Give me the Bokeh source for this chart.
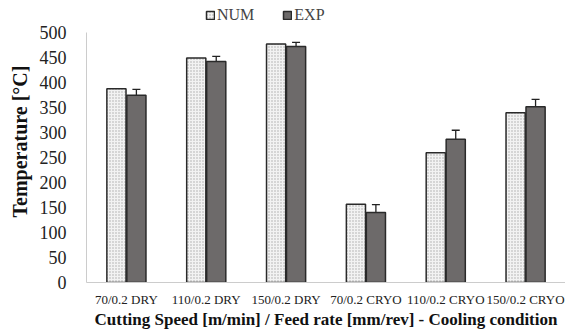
from bokeh.plotting import figure
from bokeh.models import ColumnDataSource, FactorRange, Whisker, Legend, LegendItem, Range1d, FixedTicker
from bokeh.transform import dodge
from bokeh.embed import file_html
from bokeh.resources import INLINE

categories = ["70/0.2 DRY", "110/0.2 DRY", "150/0.2 DRY", "70/0.2 CRYO", "110/0.2 CRYO", "150/0.2 CRYO"]
num_values = [388, 450, 478, 157, 260, 340]
exp_values = [375, 443, 473, 140, 287, 352]
exp_errors = [12, 10, 8, 16, 18, 15]
y_ticks = [0, 50, 100, 150, 200, 250, 300, 350, 400, 450, 500]

src = ColumnDataSource(dict(
    cat=categories, num=num_values, exp=exp_values,
    lo=[v - e for v, e in zip(exp_values, exp_errors)],
    hi=[v + e for v, e in zip(exp_values, exp_errors)],
))

FONT = "Liberation Serif"

p = figure(x_range=FactorRange(*categories, range_padding=0), y_range=Range1d(0, 565),
           width=565, height=331, output_backend="svg", toolbar_location=None,
           min_border_left=86, min_border_right=0, min_border_top=0, min_border_bottom=47)

r_num = p.vbar(x=dodge("cat", -0.125, range=p.x_range), top="num", width=0.24, source=src,
               fill_color="#f2f2f2", hatch_pattern="dot", hatch_color="#aaaaaa", hatch_scale=3,
               line_color="#2a2a2a", line_width=1.5)
r_exp = p.vbar(x=dodge("cat", 0.125, range=p.x_range), top="exp", width=0.24, source=src,
               fill_color="#6d6a6a", line_color="#2a2a2a", line_width=1.5)

w = Whisker(base=dodge("cat", 0.125, range=p.x_range), upper="hi", lower="lo", source=src,
            line_color="#222222", line_width=1.3)
w.upper_head.size = 8
w.lower_head.size = 8
w.upper_head.line_color = "#222222"
w.lower_head.line_color = "#222222"
w.upper_head.line_width = 1.3
w.lower_head.line_width = 1.3
p.add_layout(w)

p.xgrid.visible = False
p.ygrid.visible = False
p.outline_line_color = None

p.yaxis.ticker = FixedTicker(ticks=y_ticks)
p.yaxis.bounds = (0, 500)
p.yaxis.major_tick_line_color = None
p.yaxis.minor_tick_line_color = None
p.yaxis.axis_line_color = "#cccccc"
p.yaxis.major_label_text_font = FONT
p.yaxis.major_label_text_font_size = "18px"
p.yaxis.major_label_text_color = "#222222"
p.yaxis.major_label_standoff = 14
p.yaxis.axis_label = "Temperature [°C]"
p.yaxis.axis_label_text_font = FONT
p.yaxis.axis_label_text_font_style = "bold"
p.yaxis.axis_label_text_font_size = "20px"
p.yaxis.axis_label_text_color = "#111111"
p.yaxis.axis_label_standoff = 6

p.xaxis.major_tick_line_color = None
p.xaxis.axis_line_color = "#cccccc"
p.xaxis.major_label_text_font = FONT
p.xaxis.major_label_text_font_size = "13px"
p.xaxis.major_label_text_color = "#222222"
p.xaxis.major_label_standoff = 3
p.xaxis.axis_label = "Cutting Speed [m/min] / Feed rate [mm/rev] - Cooling condition"
p.xaxis.axis_label_text_font = FONT
p.xaxis.axis_label_text_font_style = "bold"
p.xaxis.axis_label_text_font_size = "17px"
p.xaxis.axis_label_text_color = "#111111"
p.xaxis.axis_label_standoff = 0

legend = Legend(items=[LegendItem(label="NUM", renderers=[r_num]),
                       LegendItem(label="EXP", renderers=[r_exp])],
                orientation="horizontal", location=(119, 258),
                label_text_font=FONT, label_text_font_size="16px",
                glyph_width=10, glyph_height=10, spacing=28, padding=2, margin=0,
                label_standoff=2, border_line_color=None, background_fill_alpha=0)
p.add_layout(legend)

open("out.html", "w").write(file_html(p, INLINE))
